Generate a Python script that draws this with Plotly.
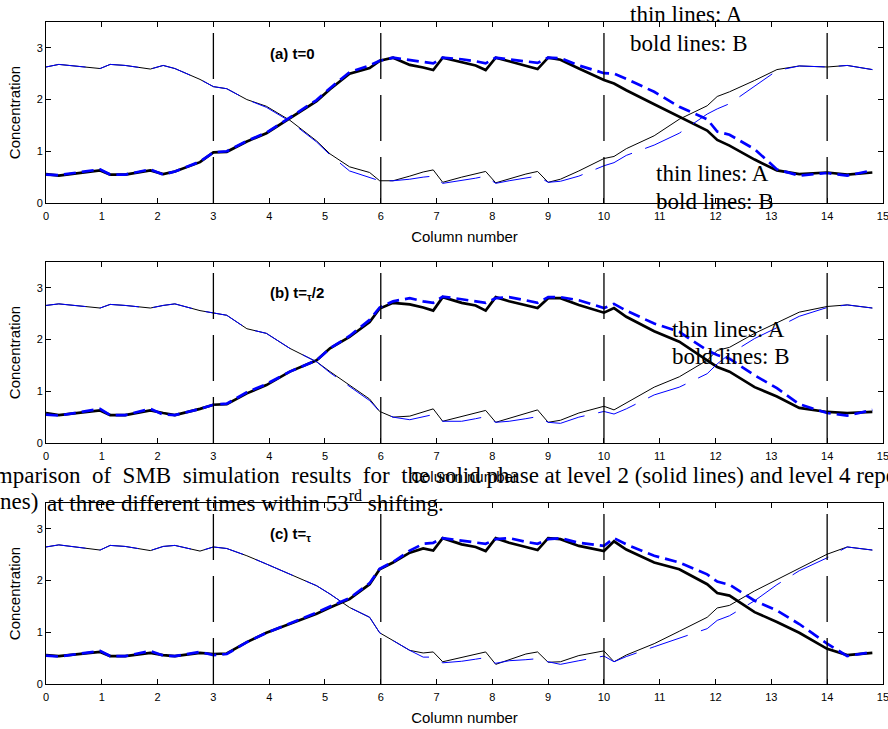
import plotly.graph_objects as go
from plotly.subplots import make_subplots

# Column positions (column number axis)
col_pos = [0, 0.23, 0.97, 1.15, 1.42, 1.87, 2.1, 2.31, 2.76, 3.0, 3.24, 3.6, 3.95, 4.37,
           4.85, 5.09, 5.44, 5.8, 5.98, 6.22, 6.52, 6.76, 6.94, 7.11, 7.45, 7.7, 7.88,
           8.06, 8.3, 8.6, 8.81, 9.0, 9.22, 9.55, 10.0, 10.18, 10.4, 10.9, 11.35, 11.85,
           12.03, 12.25, 12.7, 13.1, 13.5, 14.0, 14.36, 14.81]

# (a) t=0
a_A_lv2 = [2.63, 2.68, 2.60, 2.68, 2.66, 2.59, 2.66, 2.60, 2.39, 2.25, 2.21, 2.00, 1.87, 1.60,
           1.20, 0.95, 0.70, 0.59, 0.43, 0.43, 0.52, 0.60, 0.64, 0.40, 0.50, 0.57, 0.61,
           0.39, 0.47, 0.56, 0.61, 0.40, 0.46, 0.62, 0.86, 0.90, 1.05, 1.30, 1.62, 1.88,
           2.06, 2.15, 2.37, 2.58, 2.65, 2.63, 2.66, 2.58]
a_A_lv4 = [2.63, 2.68, 2.60, 2.68, 2.66, 2.59, 2.66, 2.60, 2.39, 2.25, 2.21, 2.00, 1.85, 1.58,
           1.18, 0.93, 0.62, 0.50, 0.43, 0.43, 0.46, 0.50, 0.52, 0.38, 0.43, 0.48, 0.52,
           0.38, 0.43, 0.48, 0.52, 0.40, 0.42, 0.52, 0.72, 0.78, 0.92, 1.12, 1.35, 1.72,
           1.82, 1.92, 2.26, 2.56, 2.65, 2.63, 2.66, 2.58]
a_B_lv2 = [0.56, 0.53, 0.63, 0.55, 0.55, 0.63, 0.56, 0.61, 0.79, 0.98, 0.99, 1.19, 1.35, 1.64,
           1.97, 2.20, 2.50, 2.61, 2.75, 2.81, 2.67, 2.62, 2.57, 2.81, 2.72, 2.66, 2.57,
           2.81, 2.74, 2.66, 2.59, 2.81, 2.77, 2.60, 2.38, 2.31, 2.18, 1.91, 1.67, 1.40,
           1.22, 1.11, 0.84, 0.63, 0.56, 0.59, 0.55, 0.59]
a_B_lv4 = [0.55, 0.54, 0.65, 0.55, 0.55, 0.65, 0.55, 0.61, 0.80, 0.98, 1.00, 1.20, 1.36, 1.66,
           1.99, 2.22, 2.53, 2.66, 2.75, 2.81, 2.76, 2.73, 2.70, 2.81, 2.78, 2.74, 2.70,
           2.81, 2.78, 2.74, 2.71, 2.81, 2.80, 2.66, 2.51, 2.50, 2.40, 2.15, 1.86, 1.62,
           1.38, 1.32, 1.04, 0.65, 0.53, 0.58, 0.53, 0.63]

# (b) t=tau/2
b_A_lv2 = [2.66, 2.69, 2.61, 2.68, 2.66, 2.61, 2.66, 2.69, 2.56, 2.51, 2.47, 2.21, 2.12, 1.83,
           1.57, 1.38, 1.12, 0.85, 0.61, 0.50, 0.52, 0.60, 0.66, 0.42, 0.51, 0.58, 0.63,
           0.40, 0.48, 0.58, 0.64, 0.40, 0.44, 0.58, 0.71, 0.64, 0.77, 1.08, 1.28, 1.60,
           1.79, 1.85, 2.12, 2.32, 2.53, 2.64, 2.67, 2.61]
b_A_lv4 = [2.66, 2.69, 2.61, 2.68, 2.66, 2.61, 2.66, 2.69, 2.56, 2.51, 2.47, 2.21, 2.12, 1.83,
           1.57, 1.36, 1.10, 0.82, 0.61, 0.50, 0.45, 0.51, 0.55, 0.42, 0.42, 0.47, 0.51,
           0.40, 0.42, 0.47, 0.51, 0.40, 0.38, 0.50, 0.61, 0.56, 0.66, 0.93, 1.08, 1.34,
           1.53, 1.72, 2.02, 2.23, 2.45, 2.62, 2.67, 2.61]
b_B_lv2 = [0.58, 0.54, 0.63, 0.54, 0.54, 0.63, 0.58, 0.54, 0.66, 0.74, 0.75, 0.96, 1.12, 1.38,
           1.60, 1.83, 2.05, 2.34, 2.60, 2.71, 2.68, 2.62, 2.56, 2.82, 2.71, 2.66, 2.56,
           2.82, 2.74, 2.66, 2.61, 2.80, 2.80, 2.67, 2.52, 2.61, 2.44, 2.16, 1.96, 1.60,
           1.47, 1.38, 1.08, 0.90, 0.68, 0.60, 0.58, 0.60]
b_B_lv4 = [0.55, 0.53, 0.66, 0.54, 0.54, 0.66, 0.55, 0.54, 0.66, 0.74, 0.76, 0.98, 1.14, 1.38,
           1.60, 1.83, 2.07, 2.38, 2.62, 2.74, 2.80, 2.74, 2.71, 2.83, 2.78, 2.74, 2.71,
           2.80, 2.82, 2.76, 2.71, 2.82, 2.82, 2.76, 2.61, 2.69, 2.56, 2.31, 2.15, 1.79,
           1.70, 1.63, 1.31, 1.06, 0.75, 0.58, 0.53, 0.64]

# (c) t=tau
c_A_lv2 = [2.65, 2.69, 2.59, 2.68, 2.66, 2.58, 2.66, 2.68, 2.57, 2.65, 2.62, 2.48, 2.32, 2.12,
           1.90, 1.74, 1.48, 1.29, 0.99, 0.84, 0.65, 0.60, 0.62, 0.43, 0.52, 0.58, 0.62,
           0.38, 0.47, 0.58, 0.62, 0.42, 0.43, 0.55, 0.64, 0.43, 0.56, 0.78, 1.02, 1.29,
           1.47, 1.52, 1.80, 2.02, 2.25, 2.51, 2.65, 2.59]
c_A_lv4 = [2.65, 2.69, 2.59, 2.68, 2.66, 2.58, 2.66, 2.68, 2.57, 2.65, 2.62, 2.48, 2.32, 2.12,
           1.90, 1.74, 1.48, 1.29, 0.99, 0.84, 0.65, 0.52, 0.52, 0.41, 0.44, 0.48, 0.51,
           0.40, 0.45, 0.47, 0.49, 0.43, 0.38, 0.45, 0.54, 0.43, 0.53, 0.72, 0.88, 1.07,
           1.23, 1.32, 1.61, 1.92, 2.19, 2.44, 2.65, 2.59]
c_B_lv2 = [0.56, 0.54, 0.62, 0.54, 0.54, 0.60, 0.56, 0.54, 0.60, 0.58, 0.59, 0.81, 0.99, 1.16,
           1.36, 1.48, 1.64, 1.93, 2.22, 2.35, 2.54, 2.62, 2.58, 2.82, 2.70, 2.65, 2.57,
           2.82, 2.73, 2.65, 2.59, 2.82, 2.80, 2.67, 2.57, 2.76, 2.60, 2.35, 2.22, 1.93,
           1.76, 1.71, 1.39, 1.20, 0.99, 0.68, 0.56, 0.60]
c_B_lv4 = [0.55, 0.53, 0.64, 0.54, 0.54, 0.64, 0.55, 0.54, 0.62, 0.56, 0.58, 0.81, 0.99, 1.17,
           1.38, 1.50, 1.66, 1.95, 2.23, 2.36, 2.58, 2.71, 2.73, 2.82, 2.77, 2.74, 2.71,
           2.80, 2.82, 2.75, 2.71, 2.80, 2.82, 2.73, 2.67, 2.82, 2.70, 2.48, 2.35, 2.12,
           1.98, 1.92, 1.61, 1.42, 1.16, 0.78, 0.54, 0.62]

panel_labels = ["<b>(a) t=0</b>", "<b>(b) t=<sub>τ</sub>/2</b>", "<b>(c) t=<sub>τ</sub></b>"]
section_bounds = [3, 6, 10, 14]
x_ticks = list(range(0, 16))
y_ticks = [0, 1, 2, 3]

panels = [
    (a_A_lv2, a_A_lv4, a_B_lv2, a_B_lv4),
    (b_A_lv2, b_A_lv4, b_B_lv2, b_B_lv4),
    (c_A_lv2, c_A_lv4, c_B_lv2, c_B_lv4),
]

W, H = 888, 729
ML, MR, MT, MB = 46, 5, 22, 45
PW, PH = W - ML - MR, H - MT - MB

def px2paper_x(px):
    return (px - ML) / PW

def px2paper_y(py):
    return (H - MB - py) / PH

fig = make_subplots(rows=3, cols=1)

for i, (a2, a4, b2, b4) in enumerate(panels):
    r = i + 1
    fig.add_trace(go.Scatter(x=col_pos, y=a2, mode="lines", name="A, level 2",
                             line=dict(color="black", width=1)), row=r, col=1)
    fig.add_trace(go.Scatter(x=col_pos, y=b2, mode="lines", name="B, level 2",
                             line=dict(color="black", width=2.7)), row=r, col=1)
    fig.add_trace(go.Scatter(x=col_pos, y=a4, mode="lines", name="A, level 4",
                             line=dict(color="#0000ff", width=1, dash="40px,14px")), row=r, col=1)
    fig.add_trace(go.Scatter(x=col_pos, y=b4, mode="lines", name="B, level 4",
                             line=dict(color="#0000ff", width=2.7, dash="12px,6px")), row=r, col=1)

# panel domains in pixels (top, bottom)
dom_px = [(22, 203), (262, 443), (503, 684)]
font_sans = "Liberation Sans, Arial, Helvetica, sans-serif"
font_serif = "Liberation Serif, Times New Roman, serif"

for i, (top, bot) in enumerate(dom_px):
    r = i + 1
    fig.update_xaxes(row=r, col=1, range=[0, 15.001], tickvals=x_ticks, ticks="inside", ticklen=5,
                     showline=True, linecolor="black", linewidth=1, mirror="ticks",
                     showgrid=False, zeroline=False, tickcolor="black",
                     ticklabelstandoff=3, ticklabeloverflow="allow",
                     tickfont=dict(family=font_sans, size=11, color="black"),
                     title=dict(text="Column number", font=dict(family=font_sans, size=15, color="black"),
                                standoff=10),
                     domain=[0, 1])
    fig.update_yaxes(row=r, col=1, range=[0, 3.5], tickvals=y_ticks, ticks="inside", ticklen=5,
                     showline=True, linecolor="black", linewidth=1, mirror="ticks",
                     showgrid=False, zeroline=False, tickcolor="black",
                     tickfont=dict(family=font_sans, size=11, color="black"),
                     title=dict(text="Concentration", font=dict(family=font_sans, size=15, color="black"),
                                standoff=12),
                     domain=[px2paper_y(bot), px2paper_y(top)])
    xref = "x" if r == 1 else f"x{r}"
    yref = "y" if r == 1 else f"y{r}"
    for xb in section_bounds:
        fig.add_shape(type="line", xref=xref, yref=f"{yref} domain", x0=xb, x1=xb, y0=0, y1=1,
                      line=dict(color="black", width=1.3, dash="46px,16px"))
    fig.add_annotation(xref=xref, yref=yref, x=3.98, y=2.9, text=panel_labels[i], showarrow=False,
                       xanchor="left", yanchor="middle",
                       font=dict(family=font_sans, size=15, color="black"))

# stray text labels over the figure
note_font = dict(family=font_serif, size=23, color="black")
for (lx, ty, by) in [(628, 15, 43), (654, 174, 202), (670, 329, 356)]:
    fig.add_annotation(xref="paper", yref="paper", x=px2paper_x(lx), y=px2paper_y(ty),
                       text="thin lines: A", showarrow=False, xanchor="left", yanchor="middle",
                       font=note_font)
    fig.add_annotation(xref="paper", yref="paper", x=px2paper_x(lx), y=px2paper_y(by),
                       text="bold lines: B", showarrow=False, xanchor="left", yanchor="middle",
                       font=note_font)

cap_font = dict(family=font_serif, size=23, color="black")
sp = "\u00a0\u00a0"
cap1a = sp.join(["Comparison", "of", "SMB", "simulation", "results", "for", "the"])
cap1b = "solid phase at level 2 (solid lines) and level 4 repeated"
cap2a = "(dashed lines)"
cap2b = "at three different times within 53<sup>rd</sup> shifting."
fig.add_annotation(xref="paper", yref="paper", x=px2paper_x(431), y=px2paper_y(475), text=cap1a,
                   showarrow=False, xanchor="right", yanchor="middle", font=cap_font)
fig.add_annotation(xref="paper", yref="paper", x=px2paper_x(434), y=px2paper_y(475), text=cap1b,
                   showarrow=False, xanchor="left", yanchor="middle", font=cap_font)
fig.add_annotation(xref="paper", yref="paper", x=px2paper_x(40), y=px2paper_y(501), text=cap2a,
                   showarrow=False, xanchor="right", yanchor="middle", font=cap_font)
fig.add_annotation(xref="paper", yref="paper", x=px2paper_x(45), y=px2paper_y(501), text=cap2b,
                   showarrow=False, xanchor="left", yanchor="middle", font=cap_font)

fig.update_layout(width=W, height=H, margin=dict(l=ML, r=MR, t=MT, b=MB, autoexpand=False),
                  paper_bgcolor="white", plot_bgcolor="white", showlegend=False)

fig.write_html("out.html")
